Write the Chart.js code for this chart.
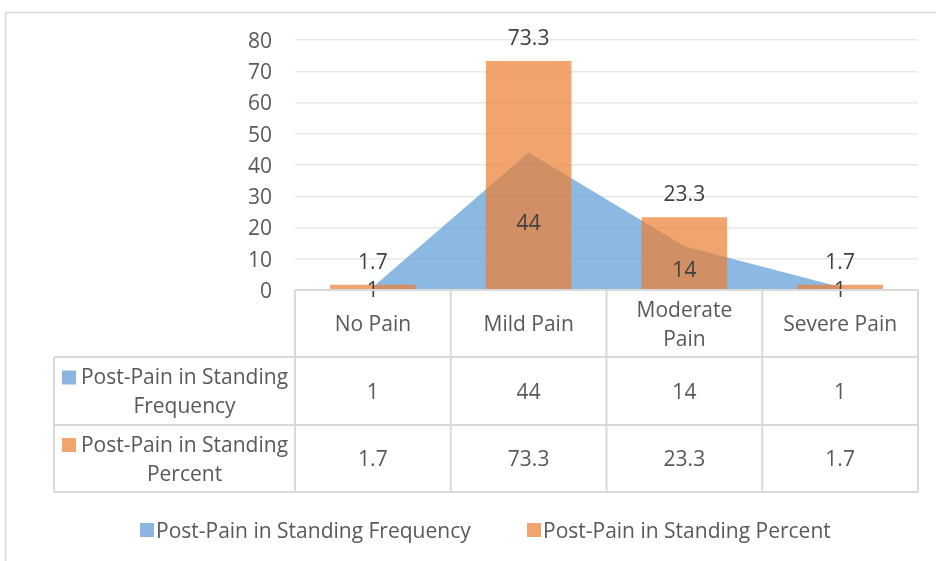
<!DOCTYPE html>
<html>
<head>
<meta charset="utf-8">
<script src="https://cdn.jsdelivr.net/npm/chart.js@4.4.1/dist/chart.umd.min.js"></script>
<style>
  html, body { margin: 0; padding: 0; background: #ffffff; }
  #wrap { width: 936px; height: 561px; position: relative; }
</style>
</head>
<body>
<div id="wrap"><canvas id="chart" width="936" height="561"></canvas></div>
<script>
// Categories (table header lines) and the two series
const categories = ['No Pain', 'Mild Pain', 'Moderate Pain', 'Severe Pain'];
const headerLines = [['No Pain'], ['Mild Pain'], ['Moderate', 'Pain'], ['Severe Pain']];
const frequency = [1, 44, 14, 1];
const percent = [1.7, 73.3, 23.3, 1.7];
const seriesNames = ['Post-Pain in Standing Frequency', 'Post-Pain in Standing Percent'];
const rowLabelLines = [['Post-Pain in Standing', 'Frequency'], ['Post-Pain in Standing', 'Percent']];
const yMin = 0, yMax = 80, yStep = 10;

const FONT = '"Open Sans", "Noto Sans", sans-serif';
const FS = 21;
const DY = 2; // baseline nudge for vertically centred text
const BLUE = 'rgba(91,155,213,0.7)';
const ORANGE = 'rgba(237,125,49,0.7)';
const KEY_BLUE = '#8cb5df';
const KEY_ORANGE = '#f2a46f';
const TEXT = '#595959';
const LABEL = '#404040';
const RULE = '#d9d9d9';

// Outer frame of the chart
const framePlugin = {
  id: 'frame',
  beforeDraw(chart) {
    const ctx = chart.ctx;
    ctx.save();
    ctx.fillStyle = '#ffffff';
    ctx.fillRect(0, 0, chart.width, chart.height);
    ctx.strokeStyle = '#d9d9d9';
    ctx.lineWidth = 1.5;
    ctx.strokeRect(5.5, 12.5, chart.width + 20, chart.height + 20);
    ctx.restore();
  }
};

// Value labels: bars at the outside end, area at the middle of its height
const valueLabelPlugin = {
  id: 'valueLabels',
  afterDatasetsDraw(chart) {
    const ctx = chart.ctx;
    const x = chart.scales.x, y = chart.scales.y;
    ctx.save();
    ctx.font = FS + 'px ' + FONT;
    ctx.fillStyle = LABEL;
    ctx.textAlign = 'center';
    ctx.textBaseline = 'middle';
    const y0 = y.getPixelForValue(0);
    frequency.forEach((v, i) => {
      const py = y.getPixelForValue(v);
      ctx.fillText(String(v), x.getPixelForValue(i), (py + y0) / 2 + 3);
    });
    percent.forEach((v, i) => {
      const py = y.getPixelForValue(v);
      ctx.fillText(String(v), x.getPixelForValue(i), py - 22);
    });
    ctx.restore();
  }
};

// Data table under the plot plus the bottom legend
const tablePlugin = {
  id: 'dataTable',
  afterDraw(chart) {
    const ctx = chart.ctx;
    const x = chart.scales.x;
    const area = chart.chartArea;
    const left = area.left, right = area.right;
    const colW = (right - left) / categories.length;
    const rows = [area.bottom, 357, 425, 492];
    const labelLeft = 54;

    ctx.save();
    ctx.strokeStyle = RULE;
    ctx.lineWidth = 2;
    ctx.beginPath();
    // horizontal rules
    ctx.moveTo(left, rows[0]); ctx.lineTo(right, rows[0]);
    for (let r = 1; r < rows.length; r++) {
      ctx.moveTo(labelLeft, rows[r]); ctx.lineTo(right, rows[r]);
    }
    // vertical rules
    for (let c = 0; c <= categories.length; c++) {
      const cx = left + c * colW;
      ctx.moveTo(cx, rows[0]); ctx.lineTo(cx, rows[3]);
    }
    ctx.moveTo(labelLeft, rows[1]); ctx.lineTo(labelLeft, rows[3]);
    ctx.stroke();

    ctx.font = FS + 'px ' + FONT;
    ctx.fillStyle = TEXT;
    ctx.textAlign = 'center';
    ctx.textBaseline = 'middle';
    const lh = 29;
    // header
    headerLines.forEach((lines, i) => {
      const cx = x.getPixelForValue(i);
      const cy = (rows[0] + rows[1]) / 2 + DY;
      lines.forEach((t, k) => {
        ctx.fillText(t, cx, cy + (k - (lines.length - 1) / 2) * lh);
      });
    });
    // rows
    const series = [frequency, percent];
    const keys = [KEY_BLUE, KEY_ORANGE];
    series.forEach((vals, r) => {
      const cy = (rows[r + 1] + rows[r + 2]) / 2 + DY;
      vals.forEach((v, i) => ctx.fillText(String(v), x.getPixelForValue(i), cy));
      const lines = rowLabelLines[r];
      const tx = (78 + left) / 2 - 2;
      lines.forEach((t, k) => {
        ctx.fillText(t, tx, cy + (k - (lines.length - 1) / 2) * lh);
      });
      ctx.fillStyle = keys[r];
      ctx.fillRect(62, cy - lh / 2 - 8, 14, 14);
      ctx.fillStyle = TEXT;
    });

    // bottom legend
    ctx.textAlign = 'left';
    const ly = 530;
    const items = [{ x: 140, c: KEY_BLUE, t: seriesNames[0] }, { x: 527, c: KEY_ORANGE, t: seriesNames[1] }];
    items.forEach(it => {
      ctx.fillStyle = it.c;
      ctx.fillRect(it.x, ly - 7, 14, 14);
      ctx.fillStyle = TEXT;
      ctx.fillText(it.t, it.x + 16, ly + DY);
    });
    ctx.restore();
  }
};

new Chart(document.getElementById('chart'), {
  data: {
    labels: categories,
    datasets: [
      {
        type: 'bar',
        label: seriesNames[1],
        data: percent,
        backgroundColor: ORANGE,
        borderWidth: 0,
        barPercentage: 0.55,
        categoryPercentage: 1.0,
        order: 0
      },
      {
        type: 'line',
        label: seriesNames[0],
        data: frequency,
        backgroundColor: BLUE,
        borderWidth: 0,
        borderColor: 'rgba(0,0,0,0)',
        pointRadius: 0,
        tension: 0,
        fill: 'origin',
        order: 1
      }
    ]
  },
  options: {
    responsive: false,
    animation: false,
    devicePixelRatio: 1,
    layout: { padding: { top: 40, left: 0, right: 18, bottom: 271 } },
    plugins: { legend: { display: false }, tooltip: { enabled: false } },
    scales: {
      x: {
        type: 'category',
        offset: true,
        display: false
      },
      y: {
        min: yMin,
        max: yMax,
        ticks: {
          stepSize: yStep,
          color: TEXT,
          font: { size: FS, family: FONT },
          padding: 23,
          labelOffset: 2
        },
        grid: { color: '#e9e9e9', lineWidth: 1.5, drawTicks: false },
        border: { display: false },
        afterFit(scale) { scale.width = 295; }
      }
    }
  },
  plugins: [framePlugin, valueLabelPlugin, tablePlugin]
});
</script>
</body>
</html>
